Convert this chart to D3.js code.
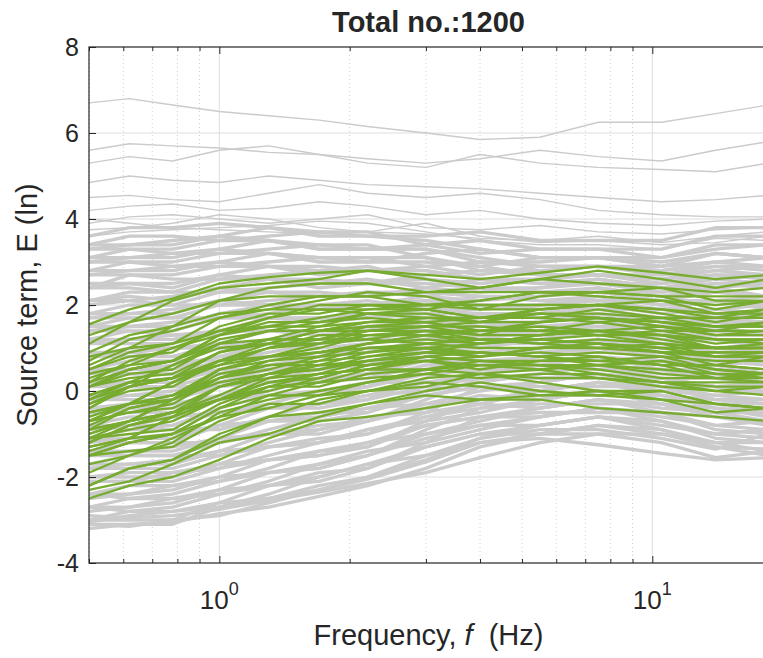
<!DOCTYPE html>
<html>
<head>
<meta charset="utf-8">
<script src="https://cdn.jsdelivr.net/npm/d3@7"></script>
<style>
  body { margin: 0; background: #fff; overflow: hidden; }
  svg { display: block; }
  text { font-family: "Liberation Sans", Arial, sans-serif; fill: #262626; }
</style>
</head>
<body>
<svg></svg>
<script>
// frequencies (Hz) at which every curve is sampled
const freqs = [0.5, 0.62, 0.78, 1.0, 1.3, 1.7, 2.2, 3, 4, 5.5, 7.5, 10.5, 14, 18.5];

// sparse grey curves above the main band
const grayUpper = [
  [6.7, 6.8, 6.65, 6.5, 6.4, 6.3, 6.15, 6.0, 5.85, 5.9, 6.25, 6.25, 6.45, 6.65],
  [5.6, 5.75, 5.7, 5.65, 5.55, 5.5, 5.4, 5.3, 5.4, 5.6, 5.45, 5.35, 5.6, 5.8],
  [5.3, 5.45, 5.35, 5.6, 5.7, 5.5, 5.3, 5.2, 5.5, 5.3, 5.2, 5.15, 5.1, 5.3],
  [4.85, 5.0, 4.9, 4.85, 5.0, 4.9, 4.8, 4.75, 4.7, 4.6, 4.5, 4.4, 4.45, 4.55],
  [4.5, 4.55, 4.45, 4.4, 4.6, 4.8, 4.6, 4.5, 4.6, 4.45, 4.2, 4.1, 4.05, 4.05],
  [4.2, 4.3, 4.35, 4.2, 4.25, 4.4, 4.3, 4.1, 4.2, 4.0, 3.9, 3.85, 3.95, 4.0],
  [3.9, 4.05, 4.1, 4.0, 3.9, 4.0, 4.1, 3.8, 3.75, 3.85, 3.7, 3.65, 3.75, 3.8],
  [3.75, 3.8, 3.9, 4.1, 4.0, 3.8, 3.7, 3.65, 3.55, 3.5, 3.6, 3.45, 3.6, 3.7],
  [3.6, 3.7, 3.75, 3.8, 3.85, 3.95, 3.9, 3.7, 3.5, 3.4, 3.4, 3.3, 3.55, 3.5],
  [4.0, 3.9, 3.8, 3.75, 3.7, 3.65, 3.7, 3.9, 3.6, 3.45, 3.5, 3.4, 3.45, 3.6]
];

// dense grey band
const grayCoreA = [
  [-3.0, -2.8, -2.8, -2.7, -2.4, -2.0, -1.7, -1.5, -1.1, -0.8, -0.6, -0.9, -1.2, -1.2],
  [-2.7, -2.5, -2.5, -2.4, -2.1, -1.7, -1.4, -1.2, -0.9, -0.6, -0.4, -0.7, -1.0, -0.9],
  [-2.4, -2.2, -2.2, -2.1, -1.8, -1.4, -1.2, -1.0, -0.7, -0.4, -0.2, -0.5, -0.8, -0.7],
  [-2.0, -1.9, -1.9, -1.8, -1.5, -1.2, -0.9, -0.7, -0.5, -0.2, 0.0, -0.3, -0.5, -0.5],
  [-1.7, -1.5, -1.5, -1.5, -1.2, -0.9, -0.6, -0.5, -0.3, 0.0, 0.2, -0.1, -0.3, -0.3],
  [-1.4, -1.2, -1.2, -1.2, -0.9, -0.6, -0.4, -0.3, 0.0, 0.2, 0.4, 0.1, -0.1, 0.0],
  [-1.1, -0.9, -0.9, -0.9, -0.6, -0.3, -0.1, 0.0, 0.2, 0.4, 0.6, 0.3, 0.1, 0.2],
  [-0.8, -0.6, -0.6, -0.5, -0.3, 0.0, 0.2, 0.2, 0.4, 0.6, 0.8, 0.5, 0.4, 0.4],
  [-0.4, -0.3, -0.3, -0.2, 0.0, 0.3, 0.4, 0.5, 0.6, 0.8, 1.0, 0.7, 0.6, 0.7],
  [-0.1, 0.1, 0.1, 0.1, 0.3, 0.5, 0.7, 0.7, 0.8, 1.0, 1.2, 0.9, 0.8, 0.9],
  [0.2, 0.4, 0.4, 0.4, 0.6, 0.8, 1.0, 1.0, 1.0, 1.2, 1.4, 1.1, 1.0, 1.1],
  [0.5, 0.7, 0.7, 0.7, 0.9, 1.1, 1.2, 1.2, 1.2, 1.4, 1.5, 1.3, 1.3, 1.3],
  [0.8, 1.0, 1.0, 1.0, 1.2, 1.4, 1.5, 1.4, 1.5, 1.6, 1.7, 1.5, 1.5, 1.6],
  [1.2, 1.4, 1.3, 1.3, 1.5, 1.7, 1.8, 1.7, 1.7, 1.8, 1.9, 1.7, 1.7, 1.8],
  [1.5, 1.7, 1.7, 1.7, 1.8, 2.0, 2.1, 1.9, 1.9, 2.0, 2.1, 1.9, 1.9, 2.0],
  [1.8, 2.0, 2.0, 2.0, 2.1, 2.2, 2.3, 2.2, 2.1, 2.2, 2.3, 2.1, 2.1, 2.2],
  [2.1, 2.3, 2.3, 2.3, 2.4, 2.5, 2.6, 2.4, 2.3, 2.4, 2.5, 2.3, 2.4, 2.5],
  [2.4, 2.7, 2.6, 2.6, 2.7, 2.8, 2.9, 2.6, 2.5, 2.6, 2.7, 2.5, 2.6, 2.7],
  [2.8, 3.0, 2.9, 2.9, 3.0, 3.1, 3.1, 2.9, 2.7, 2.9, 2.9, 2.7, 2.8, 2.9],
  [3.1, 3.3, 3.2, 3.2, 3.3, 3.4, 3.4, 3.1, 2.9, 3.1, 3.1, 2.9, 3.0, 3.1],
  [3.4, 3.6, 3.6, 3.5, 3.6, 3.7, 3.7, 3.4, 3.2, 3.3, 3.3, 3.1, 3.3, 3.4]
];

const grayCoreB = [
  [-3.0, -3.0, -3.0, -2.6, -2.2, -1.9, -1.8, -1.2, -0.6, -0.5, -0.5, -0.5, -0.6, -0.7],
  [-2.7, -2.7, -2.6, -2.3, -1.9, -1.7, -1.5, -0.9, -0.4, -0.3, -0.3, -0.3, -0.4, -0.5],
  [-2.4, -2.4, -2.3, -2.0, -1.6, -1.4, -1.3, -0.7, -0.2, -0.1, -0.1, -0.1, -0.2, -0.2],
  [-2.0, -2.0, -2.0, -1.7, -1.3, -1.1, -1.0, -0.5, 0.1, 0.1, 0.1, 0.1, 0.1, 0.0],
  [-1.7, -1.7, -1.7, -1.4, -1.0, -0.8, -0.7, -0.2, 0.3, 0.3, 0.3, 0.3, 0.3, 0.2],
  [-1.4, -1.4, -1.4, -1.1, -0.7, -0.5, -0.5, 0.0, 0.5, 0.5, 0.5, 0.5, 0.5, 0.4],
  [-1.1, -1.1, -1.1, -0.8, -0.4, -0.3, -0.2, 0.3, 0.7, 0.7, 0.7, 0.7, 0.7, 0.7],
  [-0.8, -0.8, -0.8, -0.4, -0.1, 0.0, 0.1, 0.5, 0.9, 0.9, 0.9, 0.9, 0.9, 0.9],
  [-0.4, -0.4, -0.4, -0.1, 0.2, 0.3, 0.4, 0.8, 1.1, 1.1, 1.1, 1.1, 1.2, 1.1],
  [-0.1, -0.1, -0.1, 0.2, 0.5, 0.6, 0.6, 1.0, 1.3, 1.3, 1.3, 1.3, 1.4, 1.3],
  [0.2, 0.2, 0.2, 0.5, 0.8, 0.9, 0.9, 1.2, 1.6, 1.5, 1.5, 1.5, 1.6, 1.6],
  [0.5, 0.5, 0.5, 0.8, 1.1, 1.2, 1.2, 1.5, 1.8, 1.7, 1.7, 1.7, 1.8, 1.8],
  [0.9, 0.9, 0.8, 1.1, 1.4, 1.4, 1.4, 1.7, 2.0, 1.9, 1.9, 1.9, 2.1, 2.0],
  [1.2, 1.2, 1.2, 1.4, 1.7, 1.7, 1.7, 2.0, 2.2, 2.1, 2.1, 2.1, 2.3, 2.2],
  [1.5, 1.5, 1.5, 1.8, 2.0, 2.0, 2.0, 2.2, 2.4, 2.3, 2.3, 2.3, 2.5, 2.5],
  [1.8, 1.8, 1.8, 2.1, 2.3, 2.3, 2.2, 2.4, 2.6, 2.5, 2.5, 2.5, 2.7, 2.7],
  [2.1, 2.2, 2.1, 2.4, 2.6, 2.6, 2.5, 2.7, 2.8, 2.7, 2.7, 2.7, 2.9, 2.9],
  [2.5, 2.5, 2.4, 2.7, 2.9, 2.9, 2.8, 2.9, 3.0, 2.9, 2.9, 2.9, 3.2, 3.1],
  [2.8, 2.8, 2.8, 3.0, 3.2, 3.1, 3.0, 3.2, 3.3, 3.1, 3.1, 3.1, 3.4, 3.4],
  [3.1, 3.1, 3.1, 3.3, 3.5, 3.4, 3.3, 3.4, 3.5, 3.3, 3.3, 3.3, 3.6, 3.6],
  [3.4, 3.4, 3.4, 3.6, 3.8, 3.7, 3.6, 3.6, 3.7, 3.5, 3.5, 3.5, 3.8, 3.8]
];

const grayCoreC = [
  [-2.8, -2.7, -2.5, -2.3, -2.2, -2.1, -1.8, -1.3, -1.0, -1.0, -0.8, -0.9, -1.3, -1.5],
  [-2.5, -2.4, -2.2, -2.0, -1.9, -1.8, -1.5, -1.1, -0.8, -0.8, -0.6, -0.7, -1.1, -1.2],
  [-2.1, -2.1, -1.9, -1.7, -1.6, -1.5, -1.3, -0.8, -0.6, -0.6, -0.4, -0.5, -0.9, -1.0],
  [-1.8, -1.7, -1.6, -1.4, -1.3, -1.2, -1.0, -0.6, -0.3, -0.4, -0.2, -0.3, -0.6, -0.8],
  [-1.5, -1.4, -1.3, -1.1, -1.0, -1.0, -0.7, -0.4, -0.1, -0.2, 0.0, -0.1, -0.4, -0.6],
  [-1.2, -1.1, -1.0, -0.8, -0.7, -0.7, -0.5, -0.1, 0.1, 0.0, 0.2, 0.1, -0.2, -0.3],
  [-0.9, -0.8, -0.6, -0.5, -0.4, -0.4, -0.2, 0.1, 0.3, 0.3, 0.4, 0.3, 0.1, -0.1],
  [-0.5, -0.4, -0.3, -0.1, -0.1, -0.1, 0.1, 0.4, 0.5, 0.5, 0.6, 0.5, 0.3, 0.1],
  [-0.2, -0.1, 0.0, 0.2, 0.2, 0.2, 0.3, 0.6, 0.7, 0.7, 0.8, 0.7, 0.5, 0.4],
  [0.1, 0.2, 0.3, 0.5, 0.5, 0.5, 0.6, 0.9, 0.9, 0.9, 1.0, 0.9, 0.7, 0.6],
  [0.4, 0.5, 0.6, 0.8, 0.8, 0.8, 0.9, 1.1, 1.2, 1.1, 1.2, 1.1, 0.9, 0.8],
  [0.8, 0.9, 1.0, 1.1, 1.1, 1.0, 1.1, 1.3, 1.4, 1.3, 1.4, 1.3, 1.2, 1.0],
  [1.1, 1.2, 1.3, 1.4, 1.4, 1.3, 1.4, 1.6, 1.6, 1.5, 1.6, 1.5, 1.4, 1.3],
  [1.4, 1.5, 1.6, 1.7, 1.7, 1.6, 1.7, 1.8, 1.8, 1.7, 1.8, 1.7, 1.6, 1.5],
  [1.7, 1.8, 1.9, 2.1, 2.0, 1.9, 2.0, 2.1, 2.0, 1.9, 2.0, 1.9, 1.8, 1.7],
  [2.0, 2.1, 2.2, 2.4, 2.3, 2.2, 2.2, 2.3, 2.2, 2.1, 2.2, 2.0, 2.1, 1.9],
  [2.4, 2.5, 2.5, 2.7, 2.6, 2.4, 2.5, 2.5, 2.4, 2.3, 2.4, 2.2, 2.3, 2.2],
  [2.7, 2.8, 2.9, 3.0, 2.9, 2.7, 2.8, 2.8, 2.6, 2.5, 2.6, 2.4, 2.5, 2.4],
  [3.0, 3.1, 3.2, 3.3, 3.2, 3.0, 3.0, 3.0, 2.9, 2.7, 2.7, 2.6, 2.7, 2.6],
  [3.3, 3.4, 3.5, 3.6, 3.5, 3.3, 3.3, 3.3, 3.1, 2.9, 2.9, 2.8, 2.9, 2.8],
  [3.6, 3.8, 3.8, 3.9, 3.8, 3.6, 3.6, 3.5, 3.3, 3.1, 3.1, 3.0, 3.2, 3.1]
];

const grayCoreD = [
  [-3.1, -3.1, -3.1, -2.7, -2.5, -2.3, -2.0, -1.5, -1.2, -1.0, -0.8, -1.0, -1.2, -1.4],
  [-2.7, -2.8, -2.7, -2.4, -2.2, -2.0, -1.7, -1.3, -1.0, -0.8, -0.6, -0.8, -1.0, -1.1],
  [-2.4, -2.5, -2.4, -2.1, -1.9, -1.8, -1.5, -1.0, -0.8, -0.6, -0.4, -0.6, -0.8, -0.9],
  [-2.1, -2.1, -2.1, -1.8, -1.6, -1.5, -1.2, -0.8, -0.6, -0.4, -0.2, -0.4, -0.5, -0.7],
  [-1.8, -1.8, -1.8, -1.5, -1.3, -1.2, -0.9, -0.6, -0.4, -0.2, 0.0, -0.2, -0.3, -0.5],
  [-1.5, -1.5, -1.5, -1.2, -1.0, -0.9, -0.7, -0.3, -0.2, 0.0, 0.2, 0.0, -0.1, -0.2],
  [-1.1, -1.2, -1.2, -0.8, -0.7, -0.6, -0.4, -0.1, 0.1, 0.2, 0.4, 0.2, 0.1, 0.0],
  [-0.8, -0.9, -0.8, -0.5, -0.4, -0.3, -0.1, 0.2, 0.3, 0.4, 0.6, 0.4, 0.4, 0.2],
  [-0.5, -0.5, -0.5, -0.2, -0.1, -0.1, 0.1, 0.4, 0.5, 0.6, 0.8, 0.6, 0.6, 0.4],
  [-0.2, -0.2, -0.2, 0.1, 0.2, 0.2, 0.4, 0.7, 0.7, 0.8, 1.0, 0.8, 0.8, 0.7],
  [0.1, 0.1, 0.1, 0.4, 0.5, 0.5, 0.7, 0.9, 0.9, 1.0, 1.2, 1.0, 1.0, 0.9],
  [0.5, 0.4, 0.4, 0.7, 0.8, 0.8, 0.9, 1.1, 1.1, 1.2, 1.4, 1.2, 1.2, 1.1],
  [0.8, 0.8, 0.8, 1.0, 1.1, 1.1, 1.2, 1.4, 1.3, 1.4, 1.6, 1.4, 1.5, 1.3],
  [1.1, 1.1, 1.1, 1.4, 1.4, 1.4, 1.5, 1.6, 1.6, 1.6, 1.8, 1.6, 1.7, 1.6],
  [1.4, 1.4, 1.4, 1.7, 1.7, 1.7, 1.7, 1.9, 1.8, 1.8, 2.0, 1.8, 1.9, 1.8],
  [1.7, 1.7, 1.7, 2.0, 2.0, 1.9, 2.0, 2.1, 2.0, 2.0, 2.2, 2.0, 2.1, 2.0],
  [2.1, 2.1, 2.0, 2.3, 2.3, 2.2, 2.3, 2.3, 2.2, 2.2, 2.4, 2.2, 2.4, 2.2],
  [2.4, 2.4, 2.3, 2.6, 2.6, 2.5, 2.5, 2.6, 2.4, 2.4, 2.6, 2.4, 2.6, 2.5],
  [2.7, 2.7, 2.7, 2.9, 2.9, 2.8, 2.8, 2.8, 2.6, 2.6, 2.7, 2.6, 2.8, 2.7],
  [3.0, 3.0, 3.0, 3.2, 3.2, 3.1, 3.1, 3.1, 2.8, 2.8, 2.9, 2.8, 3.0, 2.9],
  [3.3, 3.3, 3.3, 3.5, 3.5, 3.3, 3.3, 3.3, 3.0, 3.0, 3.1, 2.9, 3.2, 3.1]
];

// grey curves below the main band
const grayLower = [
  [-3.2, -3.1, -3.05, -2.85, -2.7, -2.45, -2.2, -1.8, -1.3, -1.0, -1.0, -1.2, -1.55, -1.4],
  [-3.1, -3.15, -3.0, -2.9, -2.6, -2.3, -2.05, -1.65, -1.2, -1.1, -1.25, -1.45, -1.6, -1.55],
  [-2.9, -2.95, -2.9, -2.75, -2.55, -2.35, -2.15, -1.9, -1.55, -1.2, -1.0, -1.0, -1.3, -1.35],
  [-3.05, -2.9, -2.8, -2.6, -2.5, -2.2, -2.0, -1.6, -1.1, -0.9, -0.9, -1.1, -1.35, -1.0]
];

// highlighted (green) curves
const greenCurves = [
  [-2.5, -2.2, -2.0, -1.6, -1.1, -0.7, -0.6, -0.4, -0.2, -0.2, -0.4, -0.5, -0.6, -0.7],
  [-2.3, -2.1, -1.7, -1.2, -1.0, -0.6, -0.3, -0.1, -0.2, -0.1, -0.1, -0.2, -0.5, -0.4],
  [-2.2, -1.8, -1.6, -1.0, -0.6, -0.5, -0.3, 0.0, 0.2, 0.0, -0.1, 0.0, -0.3, -0.4],
  [-2.2, -1.8, -1.6, -1.1, -0.6, -0.2, 0.0, 0.1, 0.4, 0.5, 0.3, 0.2, 0.2, 0.2],
  [-1.7, -1.5, -1.1, -0.6, -0.4, -0.1, 0.2, 0.4, 0.3, 0.4, 0.4, 0.2, 0.0, 0.1],
  [-1.5, -1.2, -1.0, -0.4, -0.1, -0.1, 0.0, 0.3, 0.4, 0.2, 0.0, 0.0, -0.3, -0.4],
  [-1.5, -1.2, -1.0, -0.6, -0.1, 0.2, 0.3, 0.4, 0.6, 0.6, 0.5, 0.3, 0.3, 0.2],
  [-1.9, -1.5, -1.2, -0.5, -0.2, 0.0, 0.2, 0.5, 0.7, 0.6, 0.6, 0.7, 0.5, 0.4],
  [-1.3, -1.1, -0.6, -0.2, 0.0, 0.3, 0.6, 0.7, 0.5, 0.7, 0.7, 0.6, 0.3, 0.4],
  [-1.0, -0.7, -0.5, -0.2, 0.2, 0.4, 0.5, 0.5, 0.6, 0.6, 0.4, 0.2, 0.1, 0.1],
  [-1.2, -0.8, -0.6, 0.1, 0.3, 0.4, 0.5, 0.8, 0.9, 0.8, 0.7, 0.8, 0.5, 0.4],
  [-1.4, -1.1, -0.6, -0.2, 0.1, 0.4, 0.7, 0.9, 0.8, 1.0, 1.1, 1.0, 0.8, 0.9],
  [-1.1, -0.7, -0.5, -0.2, 0.3, 0.6, 0.6, 0.7, 0.8, 0.9, 0.8, 0.6, 0.6, 0.5],
  [-0.9, -0.7, -0.2, 0.2, 0.4, 0.6, 0.9, 1.0, 0.8, 1.0, 1.0, 0.9, 0.6, 0.8],
  [-0.7, -0.3, -0.2, 0.4, 0.6, 0.6, 0.7, 0.9, 0.9, 0.8, 0.6, 0.7, 0.4, 0.3],
  [-1.2, -0.8, -0.5, -0.1, 0.4, 0.7, 0.8, 0.9, 1.1, 1.2, 1.1, 1.0, 1.0, 1.0],
  [-0.8, -0.4, -0.2, 0.5, 0.7, 0.8, 0.9, 1.1, 1.2, 1.1, 1.0, 1.1, 0.8, 0.8],
  [-0.7, -0.3, -0.1, 0.3, 0.7, 0.9, 1.0, 1.0, 1.1, 1.2, 1.1, 0.9, 0.9, 0.9],
  [-1.0, -0.7, -0.2, 0.3, 0.5, 0.8, 1.1, 1.2, 1.1, 1.3, 1.4, 1.3, 1.1, 1.2],
  [-0.5, -0.3, 0.2, 0.6, 0.8, 1.0, 1.3, 1.3, 1.1, 1.3, 1.4, 1.2, 1.0, 1.1],
  [-0.2, 0.2, 0.3, 0.6, 1.0, 1.2, 1.2, 1.1, 1.2, 1.2, 1.1, 0.9, 0.8, 0.8],
  [-0.9, -0.4, -0.2, 0.5, 0.8, 0.9, 1.1, 1.3, 1.4, 1.4, 1.4, 1.5, 1.3, 1.3],
  [-0.3, 0.1, 0.3, 0.7, 1.0, 1.3, 1.3, 1.3, 1.4, 1.5, 1.4, 1.3, 1.2, 1.2],
  [-0.4, 0.1, 0.3, 0.9, 1.1, 1.1, 1.2, 1.4, 1.4, 1.4, 1.3, 1.4, 1.2, 1.1],
  [-0.6, -0.3, 0.2, 0.7, 0.8, 1.1, 1.4, 1.5, 1.3, 1.6, 1.7, 1.6, 1.4, 1.6],
  [-0.1, 0.2, 0.6, 1.0, 1.1, 1.4, 1.6, 1.6, 1.4, 1.6, 1.7, 1.5, 1.3, 1.4],
  [0.2, 0.5, 0.7, 1.2, 1.4, 1.4, 1.4, 1.5, 1.5, 1.4, 1.3, 1.3, 1.0, 1.0],
  [-0.4, 0.1, 0.3, 0.7, 1.1, 1.4, 1.5, 1.5, 1.6, 1.8, 1.8, 1.7, 1.7, 1.7],
  [0.1, 0.5, 0.7, 1.3, 1.5, 1.5, 1.6, 1.7, 1.7, 1.7, 1.6, 1.7, 1.5, 1.5],
  [0.1, 0.5, 0.7, 1.1, 1.4, 1.6, 1.7, 1.6, 1.7, 1.8, 1.7, 1.6, 1.5, 1.6],
  [-0.2, 0.1, 0.6, 1.1, 1.2, 1.5, 1.8, 1.8, 1.6, 1.9, 2.0, 1.9, 1.7, 1.9],
  [0.4, 0.6, 1.0, 1.4, 1.5, 1.7, 1.9, 1.9, 1.7, 1.9, 2.0, 1.8, 1.6, 1.8],
  [0.6, 1.0, 1.1, 1.4, 1.7, 1.9, 1.8, 1.7, 1.7, 1.8, 1.7, 1.5, 1.4, 1.4],
  [0.5, 0.9, 1.1, 1.7, 1.9, 1.9, 1.9, 2.0, 2.0, 2.0, 2.0, 2.1, 1.8, 1.8],
  [0.2, 0.7, 1.0, 1.3, 1.7, 2.0, 2.0, 1.9, 2.1, 2.3, 2.3, 2.2, 2.2, 2.2],
  [0.7, 1.2, 1.4, 1.7, 2.0, 2.2, 2.2, 2.0, 2.1, 2.3, 2.2, 2.1, 2.0, 2.1],
  [0.8, 1.0, 1.5, 1.8, 1.9, 2.1, 2.3, 2.2, 1.9, 2.2, 2.3, 2.2, 1.9, 2.1],
  [0.9, 1.3, 1.5, 2.1, 2.2, 2.2, 2.2, 2.3, 2.3, 2.3, 2.3, 2.4, 2.1, 2.1],
  [1.1, 1.6, 1.8, 2.1, 2.4, 2.5, 2.5, 2.3, 2.4, 2.6, 2.5, 2.4, 2.3, 2.4],
  [1.3, 1.6, 2.1, 2.4, 2.5, 2.6, 2.8, 2.6, 2.4, 2.6, 2.8, 2.6, 2.4, 2.6],
  [1.55, 1.9, 2.15, 2.5, 2.65, 2.75, 2.8, 2.7, 2.6, 2.75, 2.9, 2.75, 2.6, 2.7],
  [-1.3, -1.1, -1.0, -0.4, 0.1, 0.2, 0.5, 0.7, 0.6, 0.5, 0.6, 0.5, 0.4, 0.4],
  [-1.1, -0.9, -0.7, -0.2, 0.2, 0.3, 0.6, 0.8, 0.7, 0.7, 0.8, 0.6, 0.6, 0.5],
  [-0.9, -0.7, -0.5, 0.1, 0.4, 0.5, 0.8, 1.0, 0.9, 0.8, 0.9, 0.8, 0.7, 0.7],
  [-0.7, -0.5, -0.3, 0.3, 0.6, 0.7, 1.0, 1.1, 1.0, 1.0, 1.1, 0.9, 0.9, 0.9],
  [-0.5, -0.3, -0.1, 0.5, 0.8, 0.9, 1.1, 1.3, 1.2, 1.1, 1.2, 1.1, 1.0, 1.0],
  [-0.3, 0.0, 0.1, 0.7, 1.0, 1.1, 1.3, 1.4, 1.3, 1.3, 1.4, 1.3, 1.2, 1.2],
  [-0.1, 0.2, 0.3, 0.9, 1.2, 1.2, 1.5, 1.6, 1.4, 1.4, 1.6, 1.4, 1.4, 1.4],
  [0.1, 0.4, 0.5, 1.1, 1.4, 1.4, 1.6, 1.7, 1.6, 1.6, 1.7, 1.6, 1.5, 1.5],
  [0.3, 0.6, 0.7, 1.3, 1.6, 1.6, 1.8, 1.9, 1.7, 1.7, 1.9, 1.7, 1.7, 1.7],
  [0.5, 0.8, 0.9, 1.5, 1.8, 1.8, 2.0, 2.0, 1.9, 1.9, 2.0, 1.9, 1.8, 1.9],
  [-1.5, -1.4, -1.3, -0.7, -0.3, -0.3, 0.0, 0.2, 0.1, -0.1, 0.0, -0.2, -0.3, -0.4],
  [-1.1, -1.0, -0.9, -0.3, 0.1, 0.1, 0.4, 0.5, 0.4, 0.3, 0.3, 0.1, 0.0, -0.1],
  [-0.7, -0.5, -0.4, 0.1, 0.4, 0.5, 0.7, 0.8, 0.7, 0.6, 0.6, 0.4, 0.3, 0.3],
  [0.1, 0.3, 0.4, 0.9, 1.2, 1.2, 1.4, 1.4, 1.2, 1.2, 1.3, 1.1, 1.0, 1.0]
];

const yTicks = [-4, -2, 0, 2, 4, 6, 8];
const xMajor = [1, 10];
const xMinor = [0.5, 0.6, 0.7, 0.8, 0.9, 2, 3, 4, 5, 6, 7, 8, 9];
const titleText = 'Total no.:1200';

const width = 763, height = 658;
const margin = { top: 47, right: -5, bottom: 95, left: 89 };
const innerWidth = width - margin.left - margin.right;
const innerHeight = height - margin.top - margin.bottom;

const svg = d3.select('svg')
    .attr('width', width)
    .attr('height', height);

const x = d3.scaleLog().domain([0.5, 18.5]).range([0, innerWidth]);
const y = d3.scaleLinear().domain([-4, 8]).range([innerHeight, 0]);

const g = svg.append('g')
    .attr('transform', `translate(${margin.left},${margin.top})`);

g.append('clipPath').attr('id', 'plot-clip')
  .append('rect')
    .attr('width', innerWidth)
    .attr('height', innerHeight);

// grid
g.selectAll('.ygrid').data(yTicks.slice(1, -1))
  .enter().append('line')
    .attr('x1', 0).attr('x2', innerWidth)
    .attr('y1', d => y(d)).attr('y2', d => y(d))
    .attr('stroke', '#dedede');

g.selectAll('.xgrid').data(xMajor)
  .enter().append('line')
    .attr('x1', d => x(d)).attr('x2', d => x(d))
    .attr('y1', 0).attr('y2', innerHeight)
    .attr('stroke', '#dedede');

g.selectAll('.xminor').data(xMinor)
  .enter().append('line')
    .attr('x1', d => x(d)).attr('x2', d => x(d))
    .attr('y1', 0).attr('y2', innerHeight)
    .attr('stroke', '#cfcfcf')
    .attr('stroke-dasharray', '1,3');

// curves
const line = d3.line()
    .x((d, i) => x(freqs[i]))
    .y(d => y(d));

const curves = g.append('g').attr('clip-path', 'url(#plot-clip)');

const drawCurves = (cls, rows, color, w) => {
  curves.selectAll('path.' + cls).data(rows)
    .enter().append('path')
      .attr('class', cls)
      .attr('d', line)
      .attr('fill', 'none')
      .attr('stroke', color)
      .attr('stroke-width', w)
      .attr('stroke-linejoin', 'round');
};

drawCurves('gray-core', [].concat(grayLower, grayCoreA, grayCoreB, grayCoreC, grayCoreD), '#cbcbcb', 3.3);
drawCurves('gray-upper', grayUpper, '#cbcbcb', 1.4);
drawCurves('green', greenCurves, '#77ac30', 2.3);

// axes
const axisColor = '#262626';

const yAxis = g.append('g')
    .call(d3.axisLeft(y).tickValues(yTicks).tickSize(-7).tickPadding(10).tickFormat(d => String(d)));
yAxis.selectAll('text').attr('font-size', 25).attr('fill', axisColor);

g.append('g')
    .attr('class', 'bare')
    .attr('transform', `translate(0,${innerHeight})`)
    .call(d3.axisBottom(x).tickValues(xMajor).tickSize(-7));
g.append('g')
    .attr('class', 'bare')
    .attr('transform', `translate(0,${innerHeight})`)
    .call(d3.axisBottom(x).tickValues(xMinor).tickSize(-4));
g.append('g')
    .attr('class', 'bare')
    .call(d3.axisTop(x).tickValues(xMajor).tickSize(-7));
g.append('g')
    .attr('class', 'bare')
    .call(d3.axisTop(x).tickValues(xMinor).tickSize(-4));

g.selectAll('.bare text').remove();
g.selectAll('.domain').remove();
g.selectAll('.tick line').attr('stroke', axisColor);

const xLabels = g.selectAll('.xlabel').data(xMajor)
  .enter().append('text')
    .attr('x', d => x(d))
    .attr('y', innerHeight + 46)
    .attr('text-anchor', 'middle')
    .attr('font-size', 26);
xLabels.append('tspan').text('10');
xLabels.append('tspan')
    .attr('dy', -14)
    .attr('font-size', 18)
    .text(d => Math.round(Math.log10(d)));

g.append('rect')
    .attr('width', innerWidth)
    .attr('height', innerHeight)
    .attr('fill', 'none')
    .attr('stroke', axisColor)
    .attr('stroke-width', 1.2);

// titles
svg.append('text')
    .attr('x', margin.left + innerWidth / 2)
    .attr('y', 32)
    .attr('text-anchor', 'middle')
    .attr('font-size', 29)
    .attr('font-weight', 'bold')
    .attr('fill', '#000')
    .text(titleText);

const xTitle = svg.append('text')
    .attr('x', margin.left + innerWidth / 2)
    .attr('y', 645)
    .attr('text-anchor', 'middle')
    .attr('font-size', 29);
xTitle.append('tspan').text('Frequency, ');
xTitle.append('tspan').attr('font-style', 'italic').text('f');
xTitle.append('tspan').text('\u00a0\u00a0(Hz)');

svg.append('text')
    .attr('transform', `translate(37,${margin.top + innerHeight / 2}) rotate(-90)`)
    .attr('text-anchor', 'middle')
    .attr('font-size', 29)
    .text('Source term, E (ln)');
</script>
</body>
</html>
